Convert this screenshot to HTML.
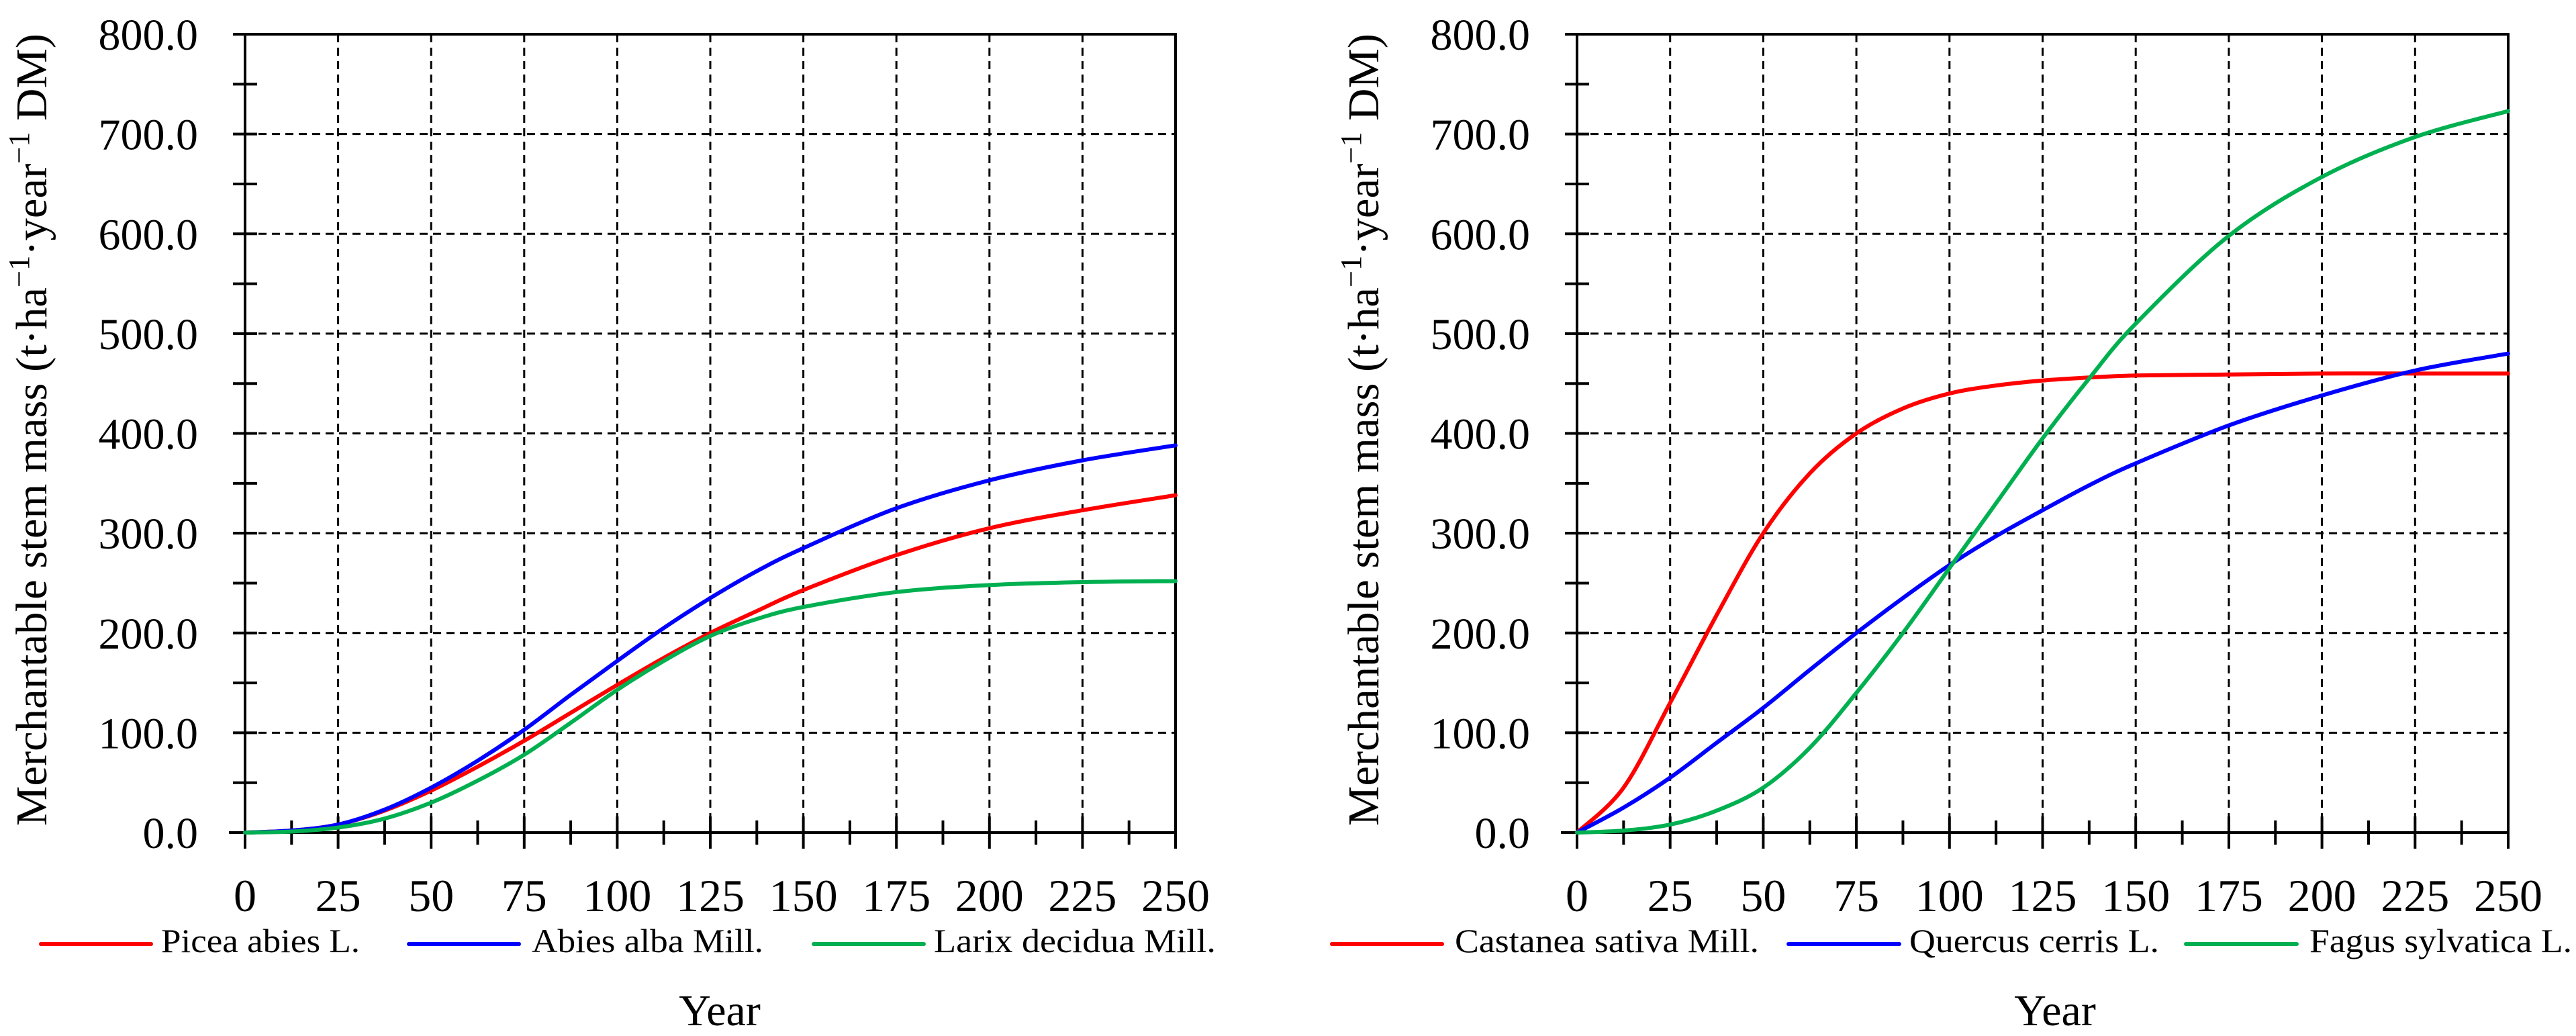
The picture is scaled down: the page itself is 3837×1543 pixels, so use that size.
<!DOCTYPE html>
<html><head><meta charset="utf-8"><style>
html,body{margin:0;padding:0;background:#fff}
svg{display:block}
text{font-family:"Liberation Serif",serif;fill:#000}
</style></head><body>
<svg id="chart" width="3837" height="1543" viewBox="0 0 3837 1543" xmlns="http://www.w3.org/2000/svg"></svg>
<script>
const years=[0,12.5,25,37.5,50,62.5,75,87.5,100,112.5,125,137.5,150,175,200,225,250];
const piceaVals=[0,2,8,22,42,66,92,120,148,175,200,222,243,278,305,323,338];
const abiesVals=[0,2,8,23,45,72,103,138,172,205,235,262,285,325,353,373,388];
const larixVals=[0,1,5,14,30,52,78,110,143,172,197,214,226,241,248,251,252];
const castaneaVals=[0,45,130,218,300,360,400,425,440,448,453,456,458,459,460,460,460];
const quercusVals=[0,25,55,90,125,163,200,235,268,297,323,348,370,408,438,463,480];
const fagusVals=[0,2,8,22,45,85,140,200,265,330,395,455,510,598,657,697,723];
const xTicks=[0,25,50,75,100,125,150,175,200,225,250];
const yTicks=[0,100,200,300,400,500,600,700,800];
const leftLegend=["Picea abies L.","Abies alba Mill.","Larix decidua Mill."];
const rightLegend=["Castanea sativa Mill.","Quercus cerris L.","Fagus sylvatica L."];
const colors=["#ff0000","#0000ff","#00b050"];

const NS="http://www.w3.org/2000/svg";
const svg=document.getElementById('chart');
function mk(tag,attrs,parent){const e=document.createElementNS(NS,tag);for(const k in attrs)e.setAttribute(k,attrs[k]);(parent||svg).appendChild(e);return e;}

function smoothPath(pts){
  let d=`M${pts[0][0]},${pts[0][1]}`;
  for(let i=0;i<pts.length-1;i++){
    const p0=pts[i-1]||pts[i],p1=pts[i],p2=pts[i+1],p3=pts[i+2]||pts[i+1];
    const c1=[p1[0]+(p2[0]-p0[0])/6,p1[1]+(p2[1]-p0[1])/6];
    const c2=[p2[0]-(p3[0]-p1[0])/6,p2[1]-(p3[1]-p1[1])/6];
    d+=` C${c1[0]},${c1[1]} ${c2[0]},${c2[1]} ${p2[0]},${p2[1]}`;
  }
  return d;
}

function panel(x0,x1,series,names,legend,yearX,prefix){
  const yTop=51,yBot=1240;
  const sx=v=>x0+(v/250)*(x1-x0);
  const sy=v=>yBot-(v/800)*(yBot-yTop);
  const g=mk('g',{});
  
  
  yTicks.forEach(t=>{ if(t>0&&t<800){const l=mk('line',{x1:x0,x2:x1,y1:sy(t),y2:sy(t),stroke:'#000','stroke-width':3,'stroke-dasharray':'12 8'},g);
    
    }});
  xTicks.forEach(t=>{ if(t>0&&t<250){const l=mk('line',{x1:sx(t),x2:sx(t),y1:yTop,y2:yBot,stroke:'#000','stroke-width':3,'stroke-dasharray':'12 8'},g);
    
    }});
  const fr=mk('rect',{x:x0,y:yTop,width:x1-x0,height:yBot-yTop,fill:'none',stroke:'#000','stroke-width':4},g);
  
  
  mk('line',{x1:x0-24,x2:x0,y1:yBot,y2:yBot,stroke:'#000','stroke-width':4},g);
  for(let v=0;v<=800;v+=50){
    mk('line',{x1:x0-18,x2:x0+18,y1:sy(v),y2:sy(v),stroke:'#000','stroke-width':4},g);
  }
  for(let v=0;v<=250;v+=12.5){
    const maj=(v%25===0);
    mk('line',{x1:sx(v),x2:sx(v),y1:maj?yBot-24:yBot-18,y2:maj?yBot+24:yBot+18,stroke:'#000','stroke-width':4},g);
  }
  yTicks.forEach(t=>{const tx=mk('text',{x:x0-70,y:sy(t)+23,'font-size':66,'text-anchor':'end'},g);tx.textContent=t.toFixed(1);
    
    });
  xTicks.forEach(t=>{const tx=mk('text',{x:sx(t),y:1357,'font-size':68,'text-anchor':'middle'},g);tx.textContent=String(t);
    
    });
  series.forEach((vals,i)=>{
    const pts=years.map((y,k)=>[sx(y),sy(vals[k])]);
    const p=mk('path',{d:smoothPath(pts),fill:'none',stroke:colors[i],'stroke-width':6,'stroke-linecap':'round'},g);
    
    
  });
  legend.forEach((L,i)=>{
    const lg=mk('g',{},g);
    
    
    mk('line',{x1:L.lx1,x2:L.lx2,y1:1406,y2:1406,stroke:colors[i],'stroke-width':6,'stroke-linecap':'round'},lg);
    const tx=mk('text',{x:L.tx,y:1418,'font-size':50,textLength:L.tw,lengthAdjust:'spacingAndGlyphs'},lg);
    tx.textContent=L.label;
  });
  const yr=mk('text',{x:yearX,y:1527,'font-size':66,'text-anchor':'middle'},g);
  yr.textContent='Year';
  
  
  const ya=mk('text',{x:0,y:0,'font-size':66,'text-anchor':'middle',transform:`translate(${x0-296},640) rotate(-90)`,textLength:1180,lengthAdjust:'spacingAndGlyphs'},g);
  ya.innerHTML='Merchantable stem mass (t·ha<tspan dy="-26" font-size="44">−1</tspan><tspan dy="26">·year</tspan><tspan dy="-26" font-size="44">−1</tspan><tspan dy="26"> DM)</tspan>';
  
  
}

panel(365,1751,[piceaVals,abiesVals,larixVals],['picea-abies','abies-alba','larix-decidua'],[
  {lx1:61,lx2:225,tx:240,tw:296,label:leftLegend[0]},
  {lx1:609,lx2:773,tx:792,tw:345,label:leftLegend[1]},
  {lx1:1212,lx2:1376,tx:1391,tw:420,label:leftLegend[2]}],1072,'left');
panel(2349,3736,[castaneaVals,quercusVals,fagusVals],['castanea-sativa','quercus-cerris','fagus-sylvatica'],[
  {lx1:1984,lx2:2148,tx:2167,tw:453,label:rightLegend[0]},
  {lx1:2664,lx2:2829,tx:2844,tw:372,label:rightLegend[1]},
  {lx1:3256,lx2:3421,tx:3440,tw:391,label:rightLegend[2]}],3061,'right');
</script>
</body></html>
